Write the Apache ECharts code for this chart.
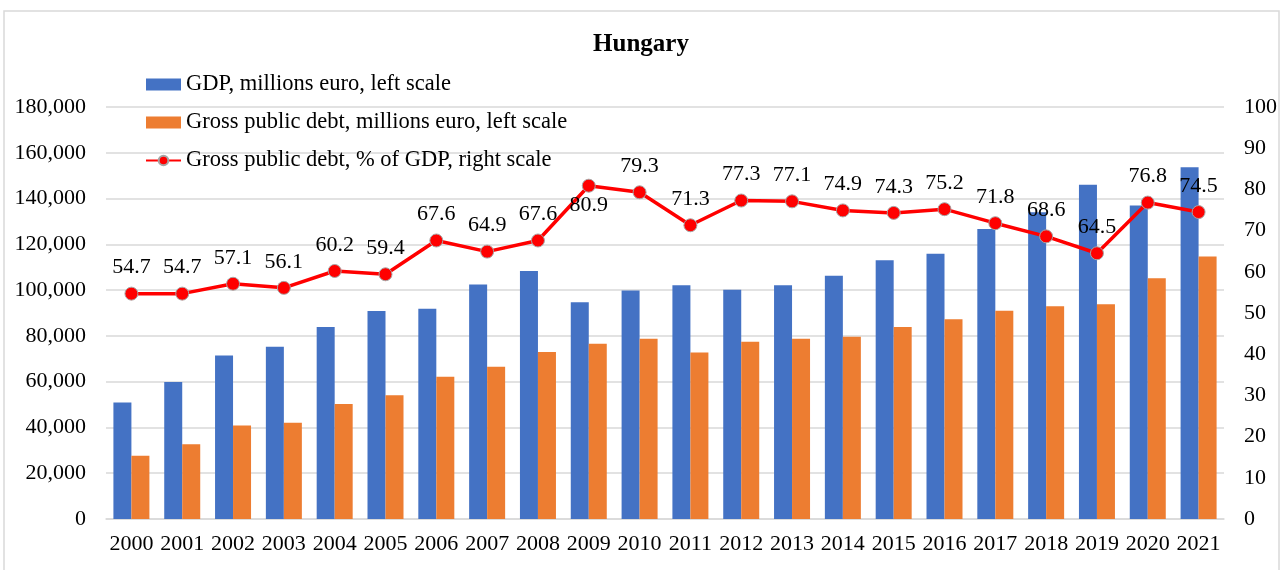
<!DOCTYPE html>
<html>
<head>
<meta charset="utf-8">
<script src="https://cdn.jsdelivr.net/npm/echarts@6/dist/echarts.min.js"></script>
<style>
  html, body { margin: 0; padding: 0; background: #fff; }
  #chartmain { width: 1282px; height: 570px; }
</style>
</head>
<body>
<div id="chartmain"></div>
<script>
// years
var years = ['2000','2001','2002','2003','2004','2005','2006','2007','2008','2009','2010',
  '2011','2012','2013','2014','2015','2016','2017','2018','2019','2020','2021'];
// GDP, millions euro
var gdp = [50900, 59900, 71400, 75300, 83900, 90900, 91900, 102500, 108400, 94700, 99800,
  102100, 100200, 102100, 106300, 113000, 115900, 126700, 134000, 146000, 137000, 153700];
// gross public debt, millions euro
var debt = [27600, 32700, 40900, 42000, 50200, 54100, 62100, 66500, 73000, 76600, 78800,
  72700, 77400, 78800, 79600, 83900, 87300, 91000, 92900, 93800, 105200, 114700];
// gross public debt, % of GDP
var debtPct = [54.7, 54.7, 57.1, 56.1, 60.2, 59.4, 67.6, 64.9, 67.6, 80.9, 79.3,
  71.3, 77.3, 77.1, 74.9, 74.3, 75.2, 71.8, 68.6, 64.5, 76.8, 74.5];

var serif = '"Liberation Serif", "DejaVu Serif", serif';

var lineData = debtPct.map(function (v, i) {
  // 2009 label sits under the point
  if (years[i] === '2009') {
    return { value: v, label: { position: 'bottom', distance: 2 } };
  }
  return v;
});

var option = {
  animation: false,
  textStyle: { fontFamily: serif },
  title: {
    text: 'Hungary',
    left: 'center',
    top: 27,
    textStyle: { fontFamily: serif, fontSize: 25, fontWeight: 'bold', color: '#000' }
  },
  graphic: [{
    type: 'rect',
    shape: { x: 4, y: 11, width: 1275, height: 580 },
    style: { fill: 'none', stroke: '#d9d9d9', lineWidth: 1.5 },
    silent: true
  }],
  legend: {
    orient: 'vertical',
    left: 140,
    top: 68,
    itemWidth: 35,
    itemHeight: 12,
    itemGap: 15,
    textStyle: { fontFamily: serif, fontSize: 22.5, color: '#000' },
    data: [
      { name: 'GDP, millions euro, left scale', icon: 'rect' },
      { name: 'Gross public debt, millions euro, left scale', icon: 'rect' },
      { name: 'Gross public debt, % of GDP, right scale' }
    ]
  },
  grid: { left: 106, right: 58, top: 107, bottom: 51 },
  xAxis: {
    type: 'category',
    data: years,
    axisLine: { lineStyle: { color: '#d9d9d9', width: 1.5 } },
    axisTick: { show: false },
    axisLabel: { fontFamily: serif, fontSize: 22, color: '#000', margin: 14, interval: 0 }
  },
  yAxis: [
    {
      type: 'value',
      min: 0,
      max: 180000,
      interval: 20000,
      axisLine: { show: false },
      axisTick: { show: false },
      splitLine: { lineStyle: { color: '#d9d9d9', width: 1.5 } },
      axisLabel: {
        fontFamily: serif, fontSize: 22, color: '#000', margin: 20,
        formatter: function (v) { return v.toLocaleString('en-US'); }
      }
    },
    {
      type: 'value',
      min: 0,
      max: 100,
      interval: 10,
      axisLine: { show: false },
      axisTick: { show: false },
      splitLine: { show: false },
      axisLabel: { fontFamily: serif, fontSize: 22, color: '#000', margin: 20 }
    }
  ],
  series: [
    {
      name: 'GDP, millions euro, left scale',
      type: 'bar',
      data: gdp,
      barWidth: 18,
      barGap: 0,
      itemStyle: { color: '#4472C4' }
    },
    {
      name: 'Gross public debt, millions euro, left scale',
      type: 'bar',
      data: debt,
      barWidth: 18,
      barGap: 0,
      itemStyle: { color: '#ED7D31' }
    },
    {
      name: 'Gross public debt, % of GDP, right scale',
      type: 'line',
      yAxisIndex: 1,
      data: lineData,
      symbol: 'circle',
      symbolSize: 13,
      lineStyle: { color: '#FF0000', width: 3.5 },
      itemStyle: { color: '#FF0000', borderColor: '#a6a6a6', borderWidth: 1 },
      label: {
        show: true,
        position: 'top',
        distance: 8,
        fontFamily: serif,
        fontSize: 22,
        color: '#000',
        formatter: function (p) { return p.value.toFixed(1); }
      },
      z: 5
    }
  ]
};

var chartmain = echarts.init(document.getElementById('chartmain'));
chartmain.setOption(option);
</script>
</body>
</html>
